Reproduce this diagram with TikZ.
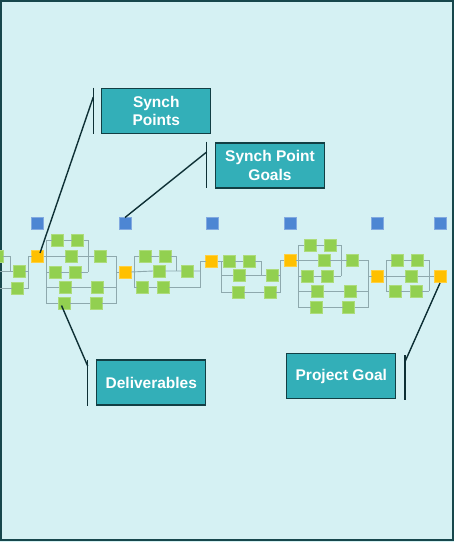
\documentclass[tikz,border=0pt]{standalone}
\usepackage{fontspec}
\setmainfont{Liberation Sans}
\definecolor{bgc}{HTML}{D5F1F3}
\definecolor{framec}{HTML}{17474C}
\definecolor{boxfill}{HTML}{33AFB8}
\definecolor{boxline}{HTML}{123F44}
\definecolor{gsqc}{HTML}{92D050}
\definecolor{osqc}{HTML}{FFC000}
\definecolor{bsqc}{HTML}{4D86D3}
\definecolor{netc}{HTML}{8EA9AD}
\definecolor{leadc}{HTML}{0E3035}
\begin{document}
\begin{tikzpicture}[x=1pt,y=-1pt,
  sqr/.style={minimum size=12pt, inner sep=0pt, outer sep=0pt, line width=0.6pt},
  gsqr/.style={sqr, fill=gsqc, draw=gsqc!75!white},
  osqr/.style={sqr, fill=osqc, draw=osqc!75!white},
  bsqr/.style={sqr, fill=bsqc, draw=bsqc!70!white},
  net/.style={draw=netc, line width=0.9pt},
  lead/.style={draw=leadc, line width=1.4pt},
  callout/.style={fill=boxfill, draw=boxline, line width=1.3pt, text=white,
    font=\bfseries\fontsize{15.5}{18.5}\selectfont, align=center,
    minimum width=109pt, minimum height=45pt, inner sep=0pt}]
\useasboundingbox (0,0) rectangle (454,542);
\fill[bgc] (0,0) rectangle (454,542);
\draw[framec, line width=2pt] (1,1) rectangle (452.5,539.5);

% bracket x positions
\coordinate (L0) at (10,0);   \coordinate (R0) at (28,0);
\coordinate (L1) at (46.5,0); \coordinate (M1) at (88.3,0);  \coordinate (R1) at (116.7,0);
\coordinate (L2) at (134,0);  \coordinate (M2) at (176.7,0); \coordinate (R2) at (200.7,0);
\coordinate (L3) at (221,0);  \coordinate (M3) at (261.7,0); \coordinate (R3) at (280,0);
\coordinate (L4) at (298.3,0);\coordinate (M4) at (341,0);   \coordinate (R4) at (368.3,0);
\coordinate (L5) at (386,0);  \coordinate (R5) at (429.3,0);
\coordinate (E0) at (0,0);

% synch point goals (blue)
\foreach \n/\x in {1/37.5,2/125,3/212,4/290,5/377.5,6/440}
  \node[bsqr] (bl\n) at (\x,223.5) {};

% synch points (orange)
\node[osqr] (o1) at (37.5,256) {};
\node[osqr] (o2) at (125,272) {};
\node[osqr] (o3) at (211.5,261.5) {};
\node[osqr] (o4) at (290,260.5) {};
\node[osqr] (o5) at (377.5,276) {};
\node[osqr] (o6) at (440,276) {};

% group 0
\node[gsqr] (g0a) at (-3,256) {};
\node[gsqr] (g0b) at (19,271) {};
\node[gsqr] (g0c) at (17.7,288) {};
% group 1
\node[gsqr] (a1) at (57.5,240) {};
\node[gsqr] (a2) at (77.5,240) {};
\node[gsqr] (a3) at (71.5,256) {};
\node[gsqr] (a4) at (100,256) {};
\node[gsqr] (a5) at (55,272) {};
\node[gsqr] (a6) at (75,272) {};
\node[gsqr] (a7) at (65,287) {};
\node[gsqr] (a8) at (97,287) {};
\node[gsqr] (a9) at (64,303.5) {};
\node[gsqr] (a10) at (96,303.5) {};
% group 2
\node[gsqr] (b1) at (145,256) {};
\node[gsqr] (b2) at (165,256) {};
\node[gsqr] (b3) at (159,271) {};
\node[gsqr] (b4) at (187.5,271) {};
\node[gsqr] (b5) at (142.5,287) {};
\node[gsqr] (b6) at (163,287) {};
% group 3
\node[gsqr] (c1) at (229,261.5) {};
\node[gsqr] (c2) at (249,261.5) {};
\node[gsqr] (c3) at (239,275) {};
\node[gsqr] (c4) at (272,275) {};
\node[gsqr] (c5) at (238,292.5) {};
\node[gsqr] (c6) at (270,292.5) {};
% group 4
\node[gsqr] (d1) at (310,245) {};
\node[gsqr] (d2) at (330,245) {};
\node[gsqr] (d3) at (324,260.5) {};
\node[gsqr] (d4) at (352.5,260.5) {};
\node[gsqr] (d5) at (307.5,276) {};
\node[gsqr] (d6) at (327.5,276) {};
\node[gsqr] (d7) at (317.5,291) {};
\node[gsqr] (d8) at (350,291) {};
\node[gsqr] (d9) at (316.5,307.5) {};
\node[gsqr] (d10) at (348.5,307.5) {};
% group 5
\node[gsqr] (e1) at (397.5,260) {};
\node[gsqr] (e2) at (417.5,260) {};
\node[gsqr] (e3) at (411.5,276) {};
\node[gsqr] (e4) at (395,291) {};
\node[gsqr] (e5) at (416,291) {};

% network lines
\draw[net] (g0a.east) -- (g0a.east -| L0) -- (g0b.west -| L0);
\draw[net] (g0b.west -| E0) -- (g0b.west);
\draw[net] (g0c.west -| E0) -- (g0c.west);
\draw[net] (g0b.east) -- (g0b.east -| R0);
\draw[net] (g0c.east) -- (g0c.east -| R0) |- (o1.west);

\draw[net] (o1.east) -- (a3.west) (a3.east) -- (a4.west) (a4.east) -- (a4.east -| R1) -- (a10.east -| R1);
\draw[net] (a1.west -| L1) -- (a9.west -| L1);
\draw[net] (a1.west -| L1) -- (a1.west) (a1.east) -- (a2.west) (a2.east) -| (a6.east -| M1);
\draw[net] (a5.west -| L1) -- (a5.west) (a5.east) -- (a6.west) (a6.east) -- (a6.east -| M1);
\draw[net] (a7.west -| L1) -- (a7.west) (a7.east) -- (a8.west) (a8.east) -- (a8.east -| R1);
\draw[net] (a9.west -| L1) -- (a9.west) (a9.east) -- (a10.west) (a10.east) -- (a10.east -| R1);
\draw[net] (o2.west -| R1) -- (o2.west);

\draw[net] (o2.east) -- (b3.west) (b3.east) -- (b4.west) (b4.east) -- (b4.east -| R2);
\draw[net] (b1.west -| L2) -- (b5.west -| L2);
\draw[net] (b1.west -| L2) -- (b1.west) (b1.east) -- (b2.west) (b2.east) -| (b4.west -| M2);
\draw[net] (b5.west -| L2) -- (b5.west) (b5.east) -- (b6.west) (b6.east) -| (o3.west -| R2) -- (o3.west);

\draw[net] (o3.east) -- (c1.west) (c1.east) -- (c2.west) (c2.east) -| (c4.west -| M3);
\draw[net] (c1.west -| L3) -- (c5.west -| L3);
\draw[net] (c3.west -| L3) -- (c3.west) (c3.east) -- (c4.west) (c4.east) -- (c4.east -| R3);
\draw[net] (c5.west -| L3) -- (c5.west) (c5.east) -- (c6.west) (c6.east) -| (o4.west -| R3) -- (o4.west);

\draw[net] (o4.east) -- (d3.west) (d3.east) -- (d4.west) (d4.east) -- (d4.east -| R4) -- (d10.east -| R4);
\draw[net] (d1.west -| L4) -- (d9.west -| L4);
\draw[net] (d1.west -| L4) -- (d1.west) (d1.east) -- (d2.west) (d2.east) -| (d6.east -| M4);
\draw[net] (d5.west -| L4) -- (d5.west) (d5.east) -- (d6.west) (d6.east) -- (d6.east -| M4);
\draw[net] (d7.west -| L4) -- (d7.west) (d7.east) -- (d8.west) (d8.east) -- (d8.east -| R4);
\draw[net] (d9.west -| L4) -- (d9.west) (d9.east) -- (d10.west) (d10.east) -- (d10.east -| R4);
\draw[net] (o5.west -| R4) -- (o5.west);

\draw[net] (o5.east) -- (e3.west) (e3.east) -- (o6.west);
\draw[net] (e1.west -| L5) -- (e4.west -| L5);
\draw[net] (e1.west -| L5) -- (e1.west) (e1.east) -- (e2.west) (e2.east) -| (e5.east -| R5);
\draw[net] (e4.west -| L5) -- (e4.west) (e4.east) -- (e5.west) (e5.east) -- (e5.east -| R5);

% callouts
\node[callout] (sp) at (156.3,110.8) {Synch\\Points};
\node[callout] (spg) at (270,165.5) {Synch Point\\Goals};
\node[callout] (del) at (151.3,382.5) {Deliverables};
\node[callout] (pg) at (341.3,376.3) {Project Goal};

\coordinate (spT) at (93.3,87.5);  \coordinate (spB) at (93.3,133.5); \coordinate (spK) at (93.3,97);
\coordinate (o1tip) at (40,253);
\coordinate (spgT) at (206.7,141.7); \coordinate (spgB) at (206.7,188.3); \coordinate (spgK) at (206.7,152);
\coordinate (delT) at (87.7,360); \coordinate (delB) at (87.7,405.5); \coordinate (delK) at (87.7,366);
\coordinate (a9tip) at (61.5,305.5);
\coordinate (pgT) at (405,355); \coordinate (pgB) at (405,399.5); \coordinate (pgK) at (405,361.7);
\coordinate (o6tip) at (440,283);

\draw[lead] (spT) -- (spB);
\draw[lead] (spK) -- (o1tip);
\draw[lead] (spgT) -- (spgB);
\draw[lead] (spgK) -- (bl2.north);
\draw[lead] (delT) -- (delB);
\draw[lead] (delK) -- (a9tip);
\draw[lead] (pgT) -- (pgB);
\draw[lead] (pgK) -- (o6tip);
\end{tikzpicture}
\end{document}
